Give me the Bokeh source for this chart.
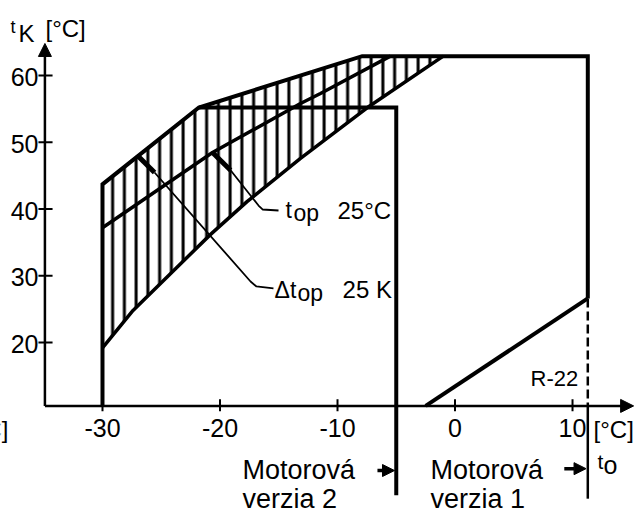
from bokeh.plotting import figure
from bokeh.models import Arrow, NormalHead, Range1d
from bokeh.core.properties import value
from bokeh.embed import file_html
from bokeh.resources import INLINE

FONT = "Liberation Sans"

# ---------------- data ----------------
x_ticks = [-30, -20, -10, 0, 10]
x_tick_labels = ["-30", "-20", "-10", "0", "10"]
y_ticks = [20, 30, 40, 50, 60]
y_tick_labels = ["20", "30", "40", "50", "60"]

axis_t0 = -34.9        # t0 at which the tK axis stands
axis_tk = 10.5         # tK at which the t0 axis lies
axis_t0_end = 15.2     # arrow tip of t0 axis
axis_tk_end = 64.8     # arrow tip of tK axis

# Motorová verzia 1 (outer envelope)
env1_t0 = [-30.0, -30.0, -21.8, -7.9, 11.3, 11.3]
env1_tk = [10.5, 43.7, 55.2, 62.9, 62.9, 26.6]
r22_t0 = [11.3, -2.5]
r22_tk = [26.6, 10.5]
limit1_t0 = 11.3
limit1_dash_tk = [26.6, 10.5]
limit1_below_tk = [10.5, -3.4]

# Motorová verzia 2 (inner envelope)
env2_t0 = [-21.8, -5.0, -5.0]
env2_tk = [55.2, 55.2, -2.9]

# hatched band (t_op = 25 °C, Δt_op = 25 K)
band_upper_t0 = [-30.0, -21.8, -7.9, -1.0]
band_upper_tk = [43.7, 55.2, 62.9, 62.9]
band_lower_t0 = [-30.0, -27.4, -23.7, -20.8, -17.7, -13.15, -7.45, -1.0]
band_lower_tk = [19.2, 24.8, 31.2, 36.2, 41.1, 47.6, 55.2, 62.9]

# t_op line
top_t0 = [-30.0, -20.64, -13.15, -11.45, -5.5]
top_tk = [37.2, 48.46, 55.8, 57.3, 62.9]

# leaders
lead1_blob_t0 = [-20.64, -19.1]
lead1_blob_tk = [48.46, 45.8]
lead1_t0 = [-19.1, -16.72, -16.38, -15.02]
lead1_tk = [45.8, 40.52, 39.93, 39.78]
lead2_blob_t0 = [-26.94, -25.57]
lead2_blob_tk = [47.87, 45.47]
lead2_t0 = [-25.57, -17.4, -16.9, -15.45]
lead2_tk = [45.47, 29.14, 28.4, 28.1]

# ---------------- figure ----------------
p = figure(width=639, height=510, output_backend="svg", toolbar_location=None,
           x_range=Range1d(-38.68, 15.70), y_range=Range1d(-5.17, 71.24),
           min_border=0)
p.axis.visible = False
p.grid.visible = False
p.outline_line_color = None
p.background_fill_color = "white"
p.border_fill_color = "white"

K = "black"

# hatched band
band_x = band_upper_t0 + band_lower_t0[::-1]
band_y = band_upper_tk + band_lower_tk[::-1]
p.patch(band_x, band_y, fill_color=None, line_color=None,
        hatch_pattern="|", hatch_scale=11.75, hatch_weight=3.0, hatch_color=K)
p.line(band_lower_t0, band_lower_tk, line_color=K, line_width=3.5)

# t_op line
p.line(top_t0, top_tk, line_color=K, line_width=3.5)

# envelopes
p.line(env1_t0, env1_tk, line_color=K, line_width=4, line_join="miter")
p.line(r22_t0, r22_tk, line_color=K, line_width=4)
p.line([limit1_t0, limit1_t0], limit1_dash_tk, line_color=K, line_width=2.5, line_dash="9 4")
p.line([limit1_t0, limit1_t0], limit1_below_tk, line_color=K, line_width=2.5)
p.line(env2_t0, env2_tk, line_color=K, line_width=4, line_join="miter")

# leaders
p.line(lead1_blob_t0, lead1_blob_tk, line_color=K, line_width=5)
p.line(lead1_t0, lead1_tk, line_color=K, line_width=1.8)
p.line(lead2_blob_t0, lead2_blob_tk, line_color=K, line_width=5)
p.line(lead2_t0, lead2_tk, line_color=K, line_width=1.8)

# axes
p.line([axis_t0, axis_t0_end - 1.0], [axis_tk, axis_tk], line_color=K, line_width=2.5)
p.line([axis_t0, axis_t0], [axis_tk, axis_tk_end - 2.0], line_color=K, line_width=2.5)
p.add_layout(Arrow(end=NormalHead(size=13, fill_color=K, line_color=K, line_width=1),
                   line_width=0, line_alpha=0,
                   x_start=axis_t0_end - 1.5, y_start=axis_tk,
                   x_end=axis_t0_end, y_end=axis_tk))
p.add_layout(Arrow(end=NormalHead(size=13, fill_color=K, line_color=K, line_width=1),
                   line_width=0, line_alpha=0,
                   x_start=axis_t0, y_start=axis_tk_end - 3.0,
                   x_end=axis_t0, y_end=axis_tk_end))

# ticks
p.segment(x0=x_ticks, x1=x_ticks, y0=[9.7] * len(x_ticks), y1=[11.5] * len(x_ticks),
          line_color=K, line_width=2)
p.segment(x0=[axis_t0 - 0.55] * len(y_ticks), x1=[axis_t0 + 0.65] * len(y_ticks),
          y0=y_ticks, y1=y_ticks, line_color=K, line_width=2)

p.text(x=x_ticks, y=[7.12] * len(x_ticks), text=x_tick_labels, text_align="center",
       text_baseline="middle", text_font=value(FONT), text_font_size="25px", text_color=K)
p.text(x=[-35.45] * len(y_ticks), y=[v - 0.25 for v in y_ticks], text=y_tick_labels,
       text_align="right", text_baseline="middle", text_font=value(FONT),
       text_font_size="25px", text_color=K)


def txt(x, y, s, size="23px", align="left"):
    p.text(x=[x], y=[y], text=[s], text_align=align, text_baseline="middle",
           text_font=value(FONT), text_font_size=size, text_color=K)


# axis titles
txt(-37.83, 67.34, "t", "18px")
txt(-37.15, 66.25, "K", "24px")
txt(-34.85, 67.0, "[°C]", "24px")
txt(11.79, 6.9, "[°C]", "24px")
txt(-38.0, 6.9, "[°C]", "24px", "right")
txt(12.13, 2.2, "t", "21px")
txt(12.64, 1.72, "o", "25px")

# band labels
txt(-14.43, 39.88, "t", "23px")
txt(-13.74, 39.43, "op", "23px")
txt(-10.0, 39.73, "25°C", "24px")
txt(-15.36, 27.9, "Δt", "23px")
txt(-13.4, 27.45, "op", "23px")
txt(-9.57, 27.9, "25 K", "24px")
txt(6.43, 14.67, "R-22", "22px")

# Motorová verzia labels
txt(-18.09, 0.93, "Motorová", "27px")
txt(-18.09, -3.41, "verzia 2", "27px")
txt(-2.09, 0.93, "Motorová", "27px")
txt(-2.09, -3.41, "verzia 1", "27px")
p.add_layout(Arrow(end=NormalHead(size=12, fill_color=K, line_color=K, line_width=1),
                   line_color=K, line_width=3.5,
                   x_start=-6.6, y_start=0.82, x_end=-5.15, y_end=0.82))
p.add_layout(Arrow(end=NormalHead(size=12, fill_color=K, line_color=K, line_width=1),
                   line_color=K, line_width=3.5,
                   x_start=9.3, y_start=1.1, x_end=11.15, y_end=1.1))

open("out.html", "w").write(file_html(p, INLINE))
